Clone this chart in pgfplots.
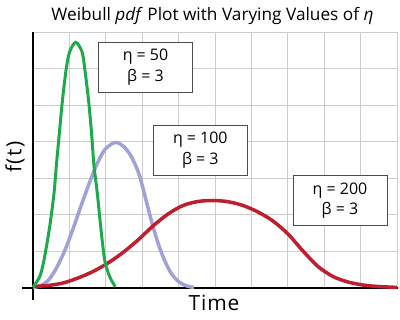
\documentclass[border=0pt]{standalone}
\usepackage{pgfplots}
\pgfplotsset{compat=1.18}
\usepackage{fontspec}
\setmainfont{Open Sans}
\definecolor{cgreen}{RGB}{30,170,75}
\definecolor{cblue}{RGB}{160,161,214}
\definecolor{cred}{RGB}{190,30,45}
\begin{document}
\begin{tikzpicture}
\path[use as bounding box] (-33bp,-32bp) rectangle (367bp,288bp);
\begin{axis}[
  at={(0,0)}, anchor=south west,
  scale only axis, width=364bp, height=256bp,
  xmin=0, xmax=364, ymin=0, ymax=256,
  xtick={0,36.4,72.8,109.2,145.6,182,218.4,254.8,291.2,327.6,364},
  ytick={0,36.57,73.14,109.71,146.29,182.86,219.43,256},
  xticklabels={}, yticklabels={},
  major tick length=0, tick style={draw=none},
  grid=major, grid style={draw=black!20, line width=0.8bp},
  axis lines=left,
  x axis line style={-, line width=1.5bp, shorten <=-11bp, shorten >=-1bp},
  y axis line style={-, line width=1.5bp, shorten <=-12bp},
  clip=false,
]
\addplot[cblue, line width=3.5bp, smooth, tension=0.5] coordinates {
(0,0.5) (8,2.5) (16,8.5) (24,21) (32,38) (40,59) (48,82) (56,104) (64,124)
(72,138.5) (82,145.5) (90,142) (98,132) (106,114) (113,88) (119,65)
(125,45) (131,29) (138,15) (146,6) (154,2) (161,0.5)};
\addplot[cred, line width=3.5bp, smooth, tension=0.5] coordinates {
(0,1.5) (15,2.5) (30,5) (45,10) (60,16.5) (75,25) (90,35.5) (105,48) (120,62)
(135,74) (150,82.5) (165,86.5) (180,87.5) (195,86.3) (210,82.5) (225,76)
(240,67) (255,54) (270,37) (285,21.5) (300,11.5) (315,6) (330,3) (345,1.5) (364,0.6)};
\addplot[cgreen, line width=3bp, smooth, tension=0.5] coordinates {
(0,1) (6.7,11.3) (11,28) (16.7,61.3) (21,94.7) (23.4,123) (26,151) (29.3,186.3)
(33.3,219.7) (36.7,236.3) (42.7,245.7) (49,236.3) (51.7,219.7) (55.7,186.3)
(58.7,153) (60.9,123) (64.3,94.7) (67.7,61.3) (71.7,28) (76.7,11.3) (82.3,1.3)};
\tikzset{bx/.style={draw=black!70, fill=white, line width=0.8bp, minimum width=94bp,
  minimum height=50bp, align=center, inner sep=0pt, font=\fontsize{16}{20.5}\selectfont}}
\node[bx] at (112.5,220.7) {η = 50\\β = 3};
\node[bx] at (167.3,138) {η = 100\\β = 3};
\node[bx] at (307,87.2) {η = 200\\β = 3};
\node[anchor=base, font=\fontsize{17.3}{20}\selectfont] at (179.5,268)
  {Weibull \textit{pdf} Plot with Varying Values of \textit{η}};
\node[rotate=90, font=\fontsize{21}{24}\selectfont\addfontfeature{LetterSpace=8}] at (-18,131) {f(t)};
\node[anchor=base, font=\fontsize{21}{24}\selectfont\addfontfeature{LetterSpace=4}] at (181,-22) {Time};
\end{axis}
\end{tikzpicture}
\end{document}
